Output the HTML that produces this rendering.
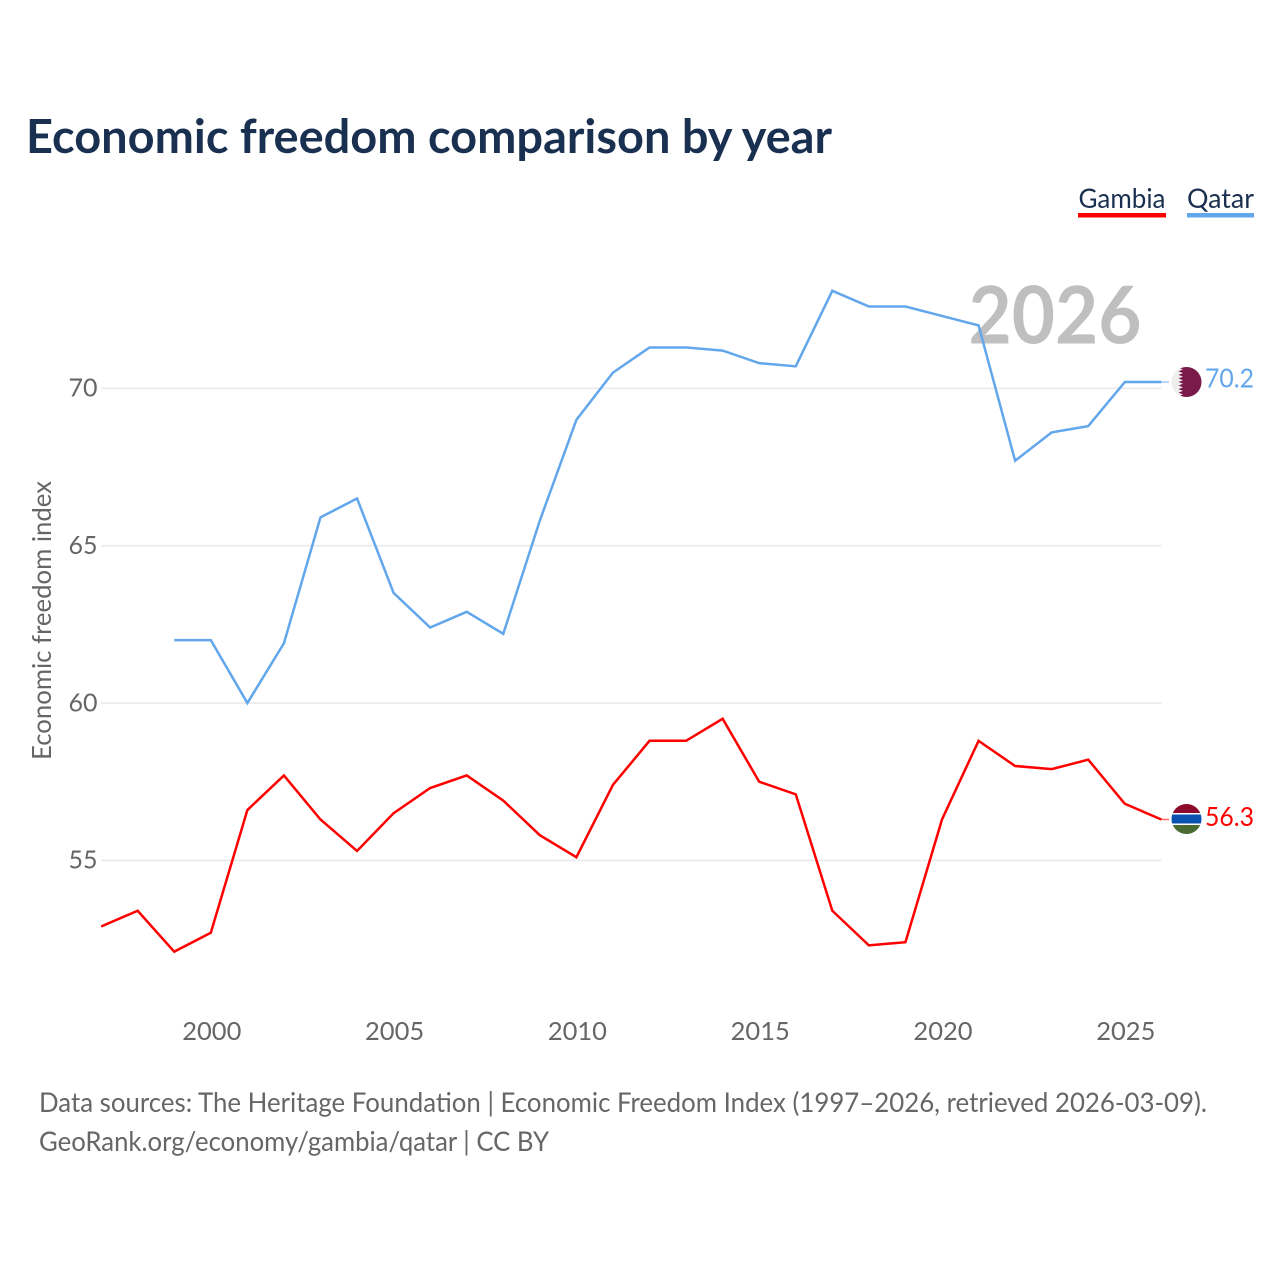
<!DOCTYPE html>
<html lang="en">
<head>
<meta charset="utf-8">
<title>Economic freedom comparison by year</title>
<style>
html,body{margin:0;padding:0;background:#fff}
svg{display:block;font-family:"Lato","Carlito","Liberation Sans",sans-serif}
</style>
</head>
<body>
<svg id="chart" xmlns="http://www.w3.org/2000/svg" width="1280" height="1280" viewBox="0 0 1280 1280">
  <defs>
    <clipPath id="flag-clip-qatar"><circle cx="1186.5" cy="382" r="15"/></clipPath>
    <clipPath id="flag-clip-gambia"><circle cx="1186.5" cy="819" r="15"/></clipPath>
  </defs>
  <rect width="1280" height="1280" fill="#fff"/>
  <text x="26" y="153" font-size="47" font-weight="700" fill="#1a3050" textLength="806" lengthAdjust="spacingAndGlyphs">Economic freedom comparison by year</text>

  <g>
    <text x="1078.5" y="208" font-size="27" fill="#1a3050" textLength="87" lengthAdjust="spacingAndGlyphs">Gambia</text>
    <rect x="1078" y="213" width="88" height="4.5" fill="#ff0000"/>
  </g>
  <g>
    <text x="1187" y="208" font-size="27" fill="#1a3050" textLength="67" lengthAdjust="spacingAndGlyphs">Qatar</text>
    <rect x="1187" y="213" width="67" height="4.5" fill="#62a6ec"/>
  </g>

  <g id="grid"></g>
  <text x="968.5" y="343.5" font-size="80" font-weight="700" fill="#bfbfbf" textLength="173" lengthAdjust="spacingAndGlyphs">2026</text>
  <g id="y-ticks"></g>
  <g id="x-ticks"></g>
  <text transform="translate(51,620.5) rotate(-90)" text-anchor="middle" font-size="26" fill="#666" textLength="279" lengthAdjust="spacingAndGlyphs">Economic freedom index</text>

  <g id="series"></g>

  <g clip-path="url(#flag-clip-qatar)">
    <rect x="1170" y="366" width="34" height="32" fill="#eeeeee"/>
    <polygon fill="#7a1a4a" points="1183,366 1178.5,367.8 1183,369.55 1178.5,371.3 1183,373.1 1178.5,374.9 1183,376.65 1178.5,378.4 1183,380.2 1178.5,382 1183,383.8 1178.5,385.55 1183,387.35 1178.5,389.1 1183,390.9 1178.5,392.65 1183,394.45 1178.5,396.2 1183,398 1203,398 1203,366"/>
  </g>
  <g clip-path="url(#flag-clip-gambia)">
    <rect x="1170" y="803" width="34" height="32" fill="#ffffff"/>
    <rect x="1170" y="803" width="34" height="10" fill="#8c0a2a"/>
    <rect x="1170" y="814.5" width="34" height="9" fill="#0a52b0"/>
    <rect x="1170" y="825" width="34" height="10" fill="#4a6b30"/>
  </g>
  <text x="1205" y="387.5" font-size="26" fill="#62a6ec" textLength="49" lengthAdjust="spacingAndGlyphs">70.2</text>
  <text x="1205" y="826" font-size="26" fill="#ff0000" textLength="49" lengthAdjust="spacingAndGlyphs">56.3</text>

  <text x="39" y="1112" font-size="27" fill="#666" textLength="1168" lengthAdjust="spacingAndGlyphs">Data sources: The Heritage Foundation | Economic Freedom Index (1997–2026, retrieved 2026-03-09).</text>
  <text x="39" y="1151" font-size="27" fill="#666" textLength="510" lengthAdjust="spacingAndGlyphs">GeoRank.org/economy/gambia/qatar | CC BY</text>
</svg>
<script>
const years = [1997,1998,1999,2000,2001,2002,2003,2004,2005,2006,2007,2008,2009,2010,2011,2012,2013,2014,2015,2016,2017,2018,2019,2020,2021,2022,2023,2024,2025,2026];
const gambiaValues = [52.9,53.4,52.1,52.7,56.6,57.7,56.3,55.3,56.5,57.3,57.7,56.9,55.8,55.1,57.4,58.8,58.8,59.5,57.5,57.1,53.4,52.3,52.4,56.3,58.8,58.0,57.9,58.2,56.8,56.3];
const qatarValues = [null,null,62.0,62.0,60.0,61.9,65.9,66.5,63.5,62.4,62.9,62.2,65.8,69.0,70.5,71.3,71.3,71.2,70.8,70.7,73.1,72.6,72.6,72.3,72.0,67.7,68.6,68.8,70.2,70.2];
const yTickValues = [55,60,65,70];
const xTickValues = [2000,2005,2010,2015,2020,2025];

const NS = 'http://www.w3.org/2000/svg';
const xScale = function (year) { return 210.8 + (year - 2000) * 36.56; };
const yScale = function (value) { return 860.4 - (value - 55) * 31.47; };

function make(tag, parent) {
  const el = document.createElementNS(NS, tag);
  parent.appendChild(el);
  return el;
}

const gridGroup = document.getElementById('grid');
const yTickGroup = document.getElementById('y-ticks');
const xTickGroup = document.getElementById('x-ticks');
const seriesGroup = document.getElementById('series');

yTickValues.forEach(function (v) {
  const line = make('line', gridGroup);
  
  
  line.setAttribute('x1', xScale(1997));
  line.setAttribute('x2', xScale(2026));
  line.setAttribute('y1', yScale(v));
  line.setAttribute('y2', yScale(v));
  line.setAttribute('stroke', '#e9eaee');
  line.setAttribute('stroke-width', '1.6');

  const label = make('text', yTickGroup);
  
  
  label.setAttribute('x', 97.5);
  label.setAttribute('y', yScale(v) + 8.3);
  label.setAttribute('text-anchor', 'end');
  label.setAttribute('font-size', '25');
  label.setAttribute('fill', '#666');
  label.textContent = v;
});

xTickValues.forEach(function (v) {
  const label = make('text', xTickGroup);
  
  
  label.setAttribute('x', xScale(v) + 1);
  label.setAttribute('y', 1040);
  label.setAttribute('text-anchor', 'middle');
  label.setAttribute('font-size', '25.5');
  label.setAttribute('fill', '#666');
  label.textContent = v;
});

function drawSeries(values, color, name) {
  const pts = [];
  values.forEach(function (v, i) {
    if (v !== null) pts.push(xScale(years[i]).toFixed(2) + ',' + yScale(v).toFixed(2));
  });
  const line = make('polyline', seriesGroup);
  
  
  line.setAttribute('points', pts.join(' '));
  line.setAttribute('fill', 'none');
  line.setAttribute('stroke', color);
  line.setAttribute('stroke-width', '2.5');
  line.setAttribute('stroke-linejoin', 'miter');

  const last = values[values.length - 1];
  const connector = make('line', seriesGroup);
  
  
  connector.setAttribute('x1', xScale(years[years.length - 1]));
  connector.setAttribute('x2', 1169);
  connector.setAttribute('y1', yScale(last));
  connector.setAttribute('y2', yScale(last));
  connector.setAttribute('stroke', color);
  connector.setAttribute('stroke-width', '1.5');
  connector.setAttribute('stroke-opacity', '0.6');
}

drawSeries(gambiaValues, '#ff0000', 'gambia');
drawSeries(qatarValues, '#62a6ec', 'qatar');
</script>
</body>
</html>
